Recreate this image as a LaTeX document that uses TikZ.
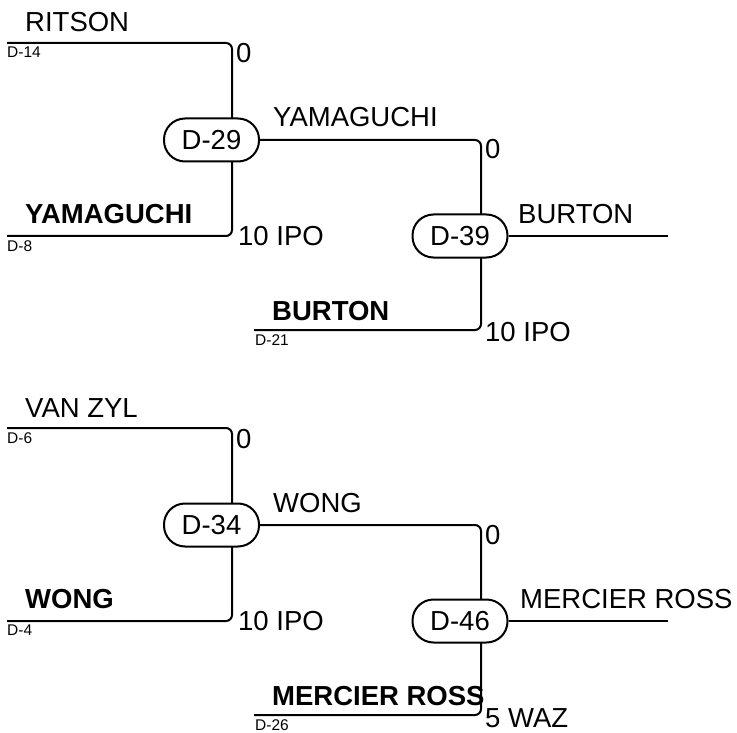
\documentclass[tikz,border=0pt]{standalone}
\usepackage{fontspec}
\setmainfont{Liberation Sans}
\begin{document}
\begin{tikzpicture}[x=1pt,y=-1pt,
  ln/.style={line width=2pt, rounded corners=6pt},
  match/.style={draw, line width=2pt, fill=white, rounded corners=21pt, minimum width=95pt, minimum height=43pt, inner sep=0pt, font=\fontsize{27.5}{27.5}\selectfont},
  big/.style={font=\fontsize{27.5}{27.5}\selectfont, inner sep=0pt, anchor=base west},
  bigb/.style={font=\fontsize{27.5}{27.5}\selectfont\bfseries, inner sep=0pt, anchor=base west},
  small/.style={font=\fontsize{15.5}{15.5}\selectfont, inner sep=0pt, anchor=north west}]
\useasboundingbox (0,0) rectangle (737,733);
% ---------- top bracket ----------
\coordinate (t14) at (7,43);
\coordinate (t8) at (7,236);
\coordinate (c29) at (232,140);
\coordinate (t21) at (254,330);
\coordinate (c39) at (481,236);
\coordinate (w39) at (668,236);
\draw[ln] (t14) -| (c29);
\draw[ln] (t8) -| (c29);
\node[match] (d29) at (211.5,140) {D-29};
\draw[ln] (d29.east) -| (c39);
\draw[ln] (t21) -| (c39);
\node[match] (d39) at (460,236) {D-39};
\draw[ln] (d39.east) -- (w39);
\node[big] (n1) at (25,32) {RITSON};
\node[small] (s1) at (7,47) {D-14};
\node[bigb] (n2) at (25,223) {YAMAGUCHI};
\node[small] (s2) at (7,240) {D-8};
\node[big] (sc1) at (236,63) {0};
\node[big] (sc2) at (238,245) {10 IPO};
\node[big] (n3) at (273,127) {YAMAGUCHI};
\node[big] (sc3) at (485,159) {0};
\node[big] (n4) at (518,223) {BURTON};
\node[bigb] (n5) at (272,320) {BURTON};
\node[small] (s3) at (255,334) {D-21};
\node[big] (sc4) at (485,341) {10 IPO};
% ---------- bottom bracket ----------
\coordinate (b6) at (7,428);
\coordinate (b4) at (7,621);
\coordinate (c34) at (232,525);
\coordinate (b26) at (254,715);
\coordinate (c46) at (481,621);
\coordinate (w46) at (668,621);
\draw[ln] (b6) -| (c34);
\draw[ln] (b4) -| (c34);
\node[match] (d34) at (211.5,525) {D-34};
\draw[ln] (d34.east) -| (c46);
\draw[ln] (b26) -| (c46);
\node[match] (d46) at (460,621) {D-46};
\draw[ln] (d46.east) -- (w46);
\node[big] (m1) at (25,417) {VAN ZYL};
\node[small] (r1) at (7,432) {D-6};
\node[bigb] (m2) at (25,608) {WONG};
\node[small] (r2) at (7,625) {D-4};
\node[big] (q1) at (236,448) {0};
\node[big] (q2) at (238,630) {10 IPO};
\node[big] (m3) at (273,512) {WONG};
\node[big] (q3) at (485,544) {0};
\node[big] (m4) at (520,608) {MERCIER ROSS};
\node[bigb] (m5) at (272,705) {MERCIER ROSS};
\node[small] (r3) at (255,719) {D-26};
\node[big] (q4) at (485,727) {5 WAZ};
\end{tikzpicture}
\end{document}
